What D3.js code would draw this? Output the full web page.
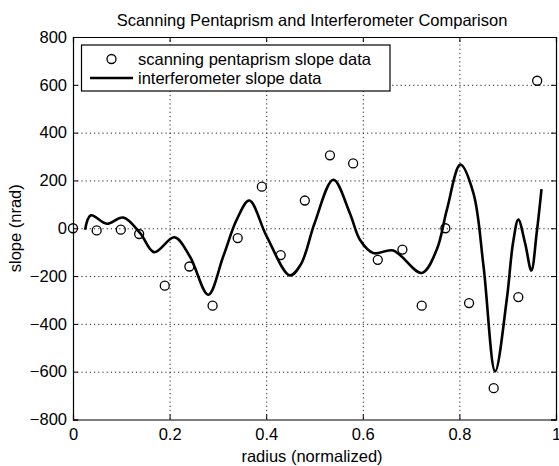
<!DOCTYPE html>
<html>
<head>
<meta charset="utf-8">
<script src="https://cdn.jsdelivr.net/npm/d3@7"></script>
<style>
  body { margin: 0; background: #fff; }
  svg { font-family: "Liberation Sans", Arial, sans-serif; }
  .grid line { stroke: #222; stroke-dasharray: 1.2,3; stroke-width: 1; }
  .grid path { display: none; }
  .axis path, .axis line { stroke: #000; }
  .axis text { font-size: 16.5px; fill: #000; }
</style>
</head>
<body>
<svg width="559" height="466"></svg>
<script>
// scanning pentaprism slope samples
const penta_r = [0, 0.049, 0.099, 0.137, 0.19, 0.241, 0.289, 0.341, 0.391, 0.43, 0.48,
                 0.532, 0.58, 0.631, 0.682, 0.722, 0.771, 0.82, 0.871, 0.922, 0.961];
const penta_slope = [0, -9, -6, -24, -240, -160, -324, -41, 174, -112, 116,
                     305, 271, -132, -89, -324, 0, -313, -669, -288, 617];

// interferometer slope curve
const interf_r = [0.025, 0.037, 0.07, 0.104, 0.139, 0.168, 0.21, 0.242, 0.28, 0.311, 0.339,
                  0.365, 0.401, 0.449, 0.472, 0.5, 0.539, 0.573, 0.594,
                  0.622, 0.663, 0.722, 0.753, 0.774, 0.802, 0.829, 0.85, 0.874, 0.898,
                  0.911, 0.922, 0.936, 0.949, 0.96, 0.97];
const interf_slope = [-6, 54, 19, 45, -20, -100, -38, -118, -278, -118, 36,
                      116, -34, -197, -150, 20, 203, 64, -48,
                      -104, -93, -187, -90, 77, 266, 147, -160, -599, -299,
                      -62, 36, -62, -177, -20, 164];

const xTicks = [0, 0.2, 0.4, 0.6, 0.8, 1];
const yTicks = [-800, -600, -400, -200, 0, 200, 400, 600, 800];
const legendLabels = ['scanning pentaprism slope data', 'interferometer slope data'];

const svg = d3.select('svg');
const x = d3.scaleLinear().domain([0, 1]).range([73, 556]);
const y = d3.scaleLinear().domain([-800, 800]).range([419.5, 37]);
const x0 = x.range()[0], x1 = x.range()[1];
const yb = y.range()[0], yt = y.range()[1];

// dotted grid
svg.append('g')
	.attr('class', 'grid')
	.attr('transform', `translate(0,${yb})`)
	.call(d3.axisBottom(x).tickValues(xTicks.slice(1, -1)).tickSize(-(yb - yt)).tickFormat(''));
svg.append('g')
	.attr('class', 'grid')
	.attr('transform', `translate(${x0},0)`)
	.call(d3.axisLeft(y).tickValues(yTicks.slice(1, -1)).tickSize(-(x1 - x0)).tickFormat(''));

// axes, ticks pointing inward on all four sides
svg.append('g')
	.attr('class', 'axis')
	.attr('transform', `translate(0,${yb})`)
	.call(d3.axisBottom(x).tickValues(xTicks).tickSize(-5).tickPadding(9).tickFormat(d3.format('')));
svg.append('g')
	.attr('class', 'axis')
	.attr('transform', `translate(0,${yt})`)
	.call(d3.axisTop(x).tickValues(xTicks).tickSize(-5).tickFormat(''));
svg.append('g')
	.attr('class', 'axis')
	.attr('transform', `translate(${x0},0)`)
	.call(d3.axisLeft(y).tickValues(yTicks).tickSize(-5).tickPadding(6).tickFormat(d3.format('')));
svg.append('g')
	.attr('class', 'axis')
	.attr('transform', `translate(${x1},0)`)
	.call(d3.axisRight(y).tickValues(yTicks).tickSize(-5).tickFormat(''));
svg.selectAll('.axis path').attr('stroke-width', 1.2);

// interferometer curve
const curve = interf_r.map((r, i) => [r, interf_slope[i]]);
const line = d3.line()
	.x(d => x(d[0]))
	.y(d => y(d[1]))
	.curve(d3.curveCatmullRom.alpha(0.5));
svg.append('path')
	.datum(curve)
	.attr('d', line)
	.attr('fill', 'none')
	.attr('stroke', '#000')
	.attr('stroke-width', 2.6)
	.attr('stroke-linejoin', 'round');

// pentaprism markers
svg.append('g')
	.selectAll('circle')
	.data(penta_r)
	.enter()
	.append('circle')
	.attr('cx', d => x(d))
	.attr('cy', (d, i) => y(penta_slope[i]))
	.attr('r', 4.5)
	.attr('fill', 'none')
	.attr('stroke', '#000')
	.attr('stroke-width', 1.3);

// legend
const lg = svg.append('g');
lg.append('rect')
	.attr('x', 81.5).attr('y', 45)
	.attr('width', 308.5).attr('height', 46)
	.attr('fill', '#fff').attr('stroke', '#000').attr('stroke-width', 1.2);
lg.append('circle')
	.attr('cx', 111.5).attr('cy', 59).attr('r', 4.5)
	.attr('fill', 'none').attr('stroke', '#000').attr('stroke-width', 1.3);
lg.append('line')
	.attr('x1', 90).attr('x2', 133).attr('y1', 78).attr('y2', 78)
	.attr('stroke', '#000').attr('stroke-width', 2.6);
lg.selectAll('text')
	.data(legendLabels)
	.enter()
	.append('text')
	.attr('x', 138)
	.attr('y', (d, i) => 65 + i * 19)
	.attr('font-size', '16.5px')
	.text(d => d);

// title and labels
svg.append('text')
	.attr('x', 312).attr('y', 26)
	.attr('text-anchor', 'middle')
	.attr('font-size', '16.5px')
	.text('Scanning Pentaprism and Interferometer Comparison');
svg.append('text')
	.attr('x', 312).attr('y', 462)
	.attr('text-anchor', 'middle')
	.attr('font-size', '16.5px')
	.text('radius (normalized)');
svg.append('text')
	.attr('transform', `translate(21,${y(0)}) rotate(-90)`)
	.attr('text-anchor', 'middle')
	.attr('font-size', '16.5px')
	.text('slope (nrad)');
</script>
</body>
</html>
